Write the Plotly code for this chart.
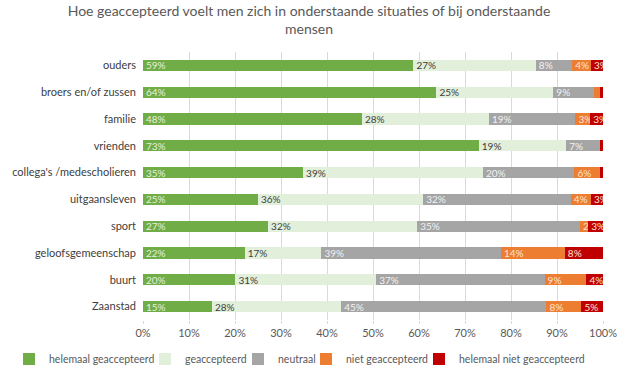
import plotly.graph_objects as go

categories = ["ouders", "broers en/of zussen", "familie", "vrienden",
              "collega's /medescholieren", "uitgaansleven", "sport",
              "geloofsgemeenschap", "buurt", "Zaanstad"]

helemaal_geaccepteerd = [58.8, 63.8, 47.6, 73.0, 34.8, 25.0, 27.2, 22.1, 20.1, 15.0]
geaccepteerd = [26.6, 25.4, 27.6, 19.0, 39.1, 35.9, 32.4, 16.7, 30.6, 28.1]
neutraal = [7.9, 8.8, 18.8, 7.4, 19.9, 32.1, 35.4, 39.0, 36.6, 44.6]
niet_geaccepteerd = [4.1, 1.3, 3.2, 0.0, 5.6, 4.4, 1.8, 13.9, 9.1, 7.6]
helemaal_niet_geaccepteerd = [2.6, 0.7, 2.8, 0.6, 0.6, 2.6, 3.2, 8.3, 3.6, 4.8]

tick_vals = [0, 10, 20, 30, 40, 50, 60, 70, 80, 90, 100]
tick_text = ["0%", "10%", "20%", "30%", "40%", "50%", "60%", "70%", "80%", "90%", "100%"]

series = [
    ("helemaal geaccepteerd", helemaal_geaccepteerd, "#70AD47", "#E6F0DD"),
    ("geaccepteerd", geaccepteerd, "#E2EFDA", "#404040"),
    ("neutraal", neutraal, "#A5A5A5", "#F2F2F2"),
    ("niet geaccepteerd", niet_geaccepteerd, "#ED7D31", "#FBE5D6"),
    ("helemaal niet geaccepteerd", helemaal_niet_geaccepteerd, "#C00000", "#FBE5D6"),
]

PLOT_L, PLOT_W, PLOT_T, PLOT_B = 143, 460, 52, 320
PLOT_H = PLOT_B - PLOT_T
legend_px = [9, 145, 238, 306, 419]  # left edges of legend boxes, pixels
legend_names = ["legend", "legend2", "legend3", "legend4", "legend5"]

fig = go.Figure()
for (name, vals, color, tcolor), lg in zip(series, legend_names):
    texts = [f"{round(v)}%" if v >= 1.5 else "" for v in vals]
    fig.add_trace(go.Bar(
        y=categories, x=vals, name=name, orientation="h",
        marker=dict(color=color, line=dict(width=0)),
        text=texts, textposition="inside", insidetextanchor="start",
        textangle=0, cliponaxis=True,
        textfont=dict(color=tcolor, size=10, family="Lato"),
        hoverinfo="skip", legend=lg, showlegend=True,
    ))

legend_layout = {}
for lg, px in zip(legend_names, legend_px):
    legend_layout[lg] = dict(
        orientation="h", x=(px - PLOT_L) / PLOT_W, xanchor="left",
        y=-(359 - PLOT_B) / PLOT_H, yanchor="middle",
        font=dict(size=10.5, color="#595959", family="Lato"), itemwidth=30,
        bgcolor="rgba(0,0,0,0)",
    )

fig.update_layout(
    barmode="stack",
    bargap=0.58,
    width=618, height=373,
    margin=dict(l=PLOT_L, r=618 - PLOT_L - PLOT_W, t=PLOT_T, b=373 - PLOT_B,
                autoexpand=False),
    paper_bgcolor="white", plot_bgcolor="white",
    font=dict(family="Lato", size=11, color="#595959"),
    title=dict(text="Hoe geaccepteerd voelt men zich in onderstaande situaties of bij onderstaande<br>mensen",
               x=0.5, xanchor="center", yref="container", y=0.958, yanchor="middle",
               font=dict(size=14, color="#595959", family="Lato")),
    uniformtext=dict(minsize=10, mode="show"),
    xaxis=dict(range=[0, 100], tickvals=tick_vals, ticktext=tick_text,
               showgrid=True, gridcolor="#D9D9D9", gridwidth=1,
               zeroline=False, showline=False, ticks="outside", ticklen=3,
               tickcolor="#D9D9D9", fixedrange=True, automargin=False,
               tickfont=dict(size=11, color="#595959")),
    yaxis=dict(autorange="reversed", showgrid=False, ticks="", automargin=False,
               ticklabelstandoff=6, fixedrange=True,
               tickfont=dict(size=11, color="#404040")),
    **legend_layout,
)

fig.write_html("out.html", config={"displayModeBar": False},
               post_script="document.body.style.margin='0';")
